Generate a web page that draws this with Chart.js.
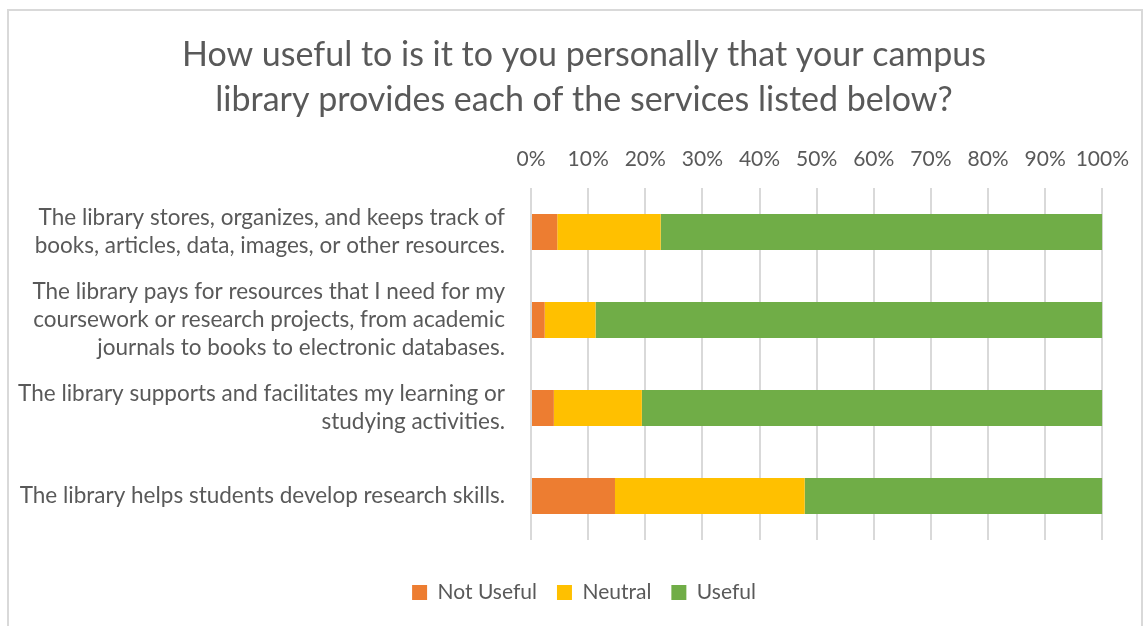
<!DOCTYPE html>
<html lang="en">
<head>
    <meta charset="UTF-8" />
    <title>Library services usefulness</title>
    <script src="https://cdn.jsdelivr.net/npm/chart.js"></script>
    <style>
        body { margin: 0; background: #fff; }
        #frame {
            position: absolute;
            left: 7px;
            top: 9px;
            width: 1136px;
            height: 625px;
            border: 2px solid #d9d9d9;
            border-bottom: none;
            box-sizing: border-box;
        }
        #wrap { position: absolute; left: 0; top: 0; width: 1145px; height: 626px; }
    </style>
</head>
<body>

<div id="frame"></div>
<div id="wrap"><canvas id="libraryChart"></canvas></div>

<script>
    // categories (one line per array entry)
    const services = [
        ['The library stores, organizes, and keeps track of', 'books, articles, data, images, or other resources.'],
        ['The library pays for resources that I need for my', 'coursework or research projects, from academic', 'journals to books to electronic databases.'],
        ['The library supports and facilitates my learning or', 'studying activities.'],
        ['The library helps students develop research skills.']
    ];

    // percentages
    const notUseful = [4.6, 2.4, 4.0, 14.7];
    const neutral = [18.1, 8.9, 15.4, 33.2];
    const useful = [77.3, 88.7, 80.6, 52.1];

    const textColor = '#595959';
    const fontFamily = 'Lato, "Open Sans", sans-serif';

    const ctx = document.getElementById('libraryChart').getContext('2d');

    new Chart(ctx, {
        type: 'bar',
        data: {
            labels: services,
            datasets: [
                { label: 'Not Useful', data: notUseful, backgroundColor: '#ed7d31' },
                { label: 'Neutral', data: neutral, backgroundColor: '#ffc000' },
                { label: 'Useful', data: useful, backgroundColor: '#70ad47' }
            ]
        },
        options: {
            indexAxis: 'y',
            responsive: true,
            maintainAspectRatio: false,
            animation: false,
            categoryPercentage: 0.41,
            barPercentage: 1,
            layout: { padding: { left: 40, right: 17, top: 33, bottom: 13 } },
            plugins: {
                title: {
                    display: true,
                    text: ['How useful to is it to you personally that your campus', 'library provides each of the services listed below?'],
                    color: textColor,
                    font: { family: fontFamily, size: 34, weight: 'normal', lineHeight: 1.32 },
                    padding: { top: 0, bottom: 8 }
                },
                legend: {
                    position: 'bottom',
                    labels: {
                        color: textColor,
                        font: { family: fontFamily, size: 21 },
                        boxWidth: 15,
                        boxHeight: 15,
                        padding: 20
                    }
                },
                tooltip: { enabled: false }
            },
            scales: {
                x: {
                    position: 'top',
                    stacked: true,
                    min: 0,
                    max: 100,
                    ticks: {
                        stepSize: 10,
                        autoSkip: false,
                        maxRotation: 0,
                        minRotation: 0,
                        color: textColor,
                        font: { family: fontFamily, size: 21 },
                        padding: 16,
                        callback: v => v + '%'
                    },
                    grid: { color: '#d9d9d9', lineWidth: 2, drawTicks: false },
                    border: { display: false }
                },
                // empty bottom axis only to leave room above the legend
                gap: {
                    type: 'linear',
                    position: 'bottom',
                    ticks: { display: false },
                    grid: { display: false, drawTicks: false },
                    border: { display: false },
                    afterFit: s => { s.height = 22; }
                },
                y: {
                    stacked: true,
                    ticks: {
                        autoSkip: false,
                        color: textColor,
                        font: { family: fontFamily, size: 22.5, lineHeight: 1.25 },
                        padding: 18
                    },
                    grid: { display: false },
                    border: { display: false },
                    afterFit: s => {
                        s.width = 491;
                        s._computeLabelArea = () => undefined; // let long labels run past the axis box
                    }
                }
            }
        }
    });
</script>

</body>
</html>
